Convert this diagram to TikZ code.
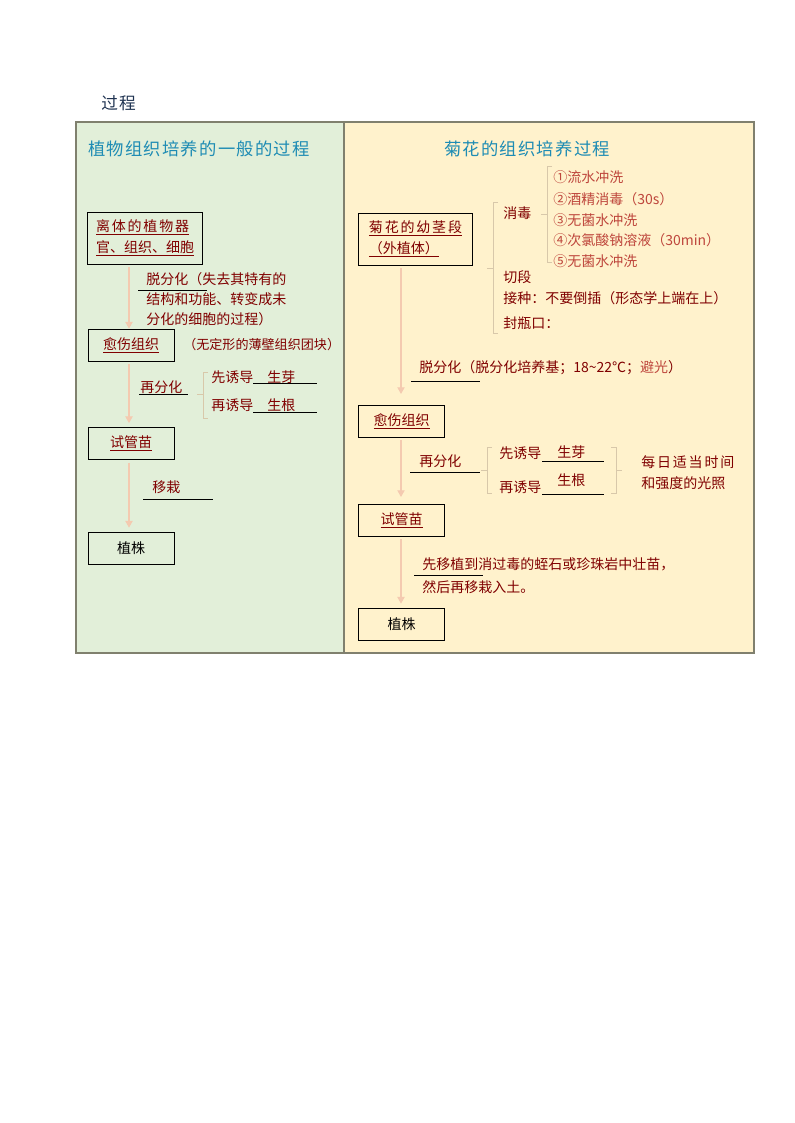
\documentclass[tikz,border=0pt]{standalone}
\usepackage{fontspec}
\setmainfont{Noto Sans CJK SC}
\newfontfamily\widefont[LetterSpace=13]{Noto Sans CJK SC}
\newfontfamily\titlefont[LetterSpace=7]{Noto Sans CJK SC}
\usetikzlibrary{arrows.meta}
\definecolor{leftbg}{RGB}{226,239,217}
\definecolor{rightbg}{RGB}{255,242,204}
\definecolor{framegray}{RGB}{128,128,110}
\definecolor{titleblue}{RGB}{30,140,180}
\definecolor{headnavy}{RGB}{30,50,80}
\definecolor{darkred}{RGB}{128,0,0}
\definecolor{itemred}{RGB}{190,70,60}
\definecolor{peach}{RGB}{244,202,176}
\definecolor{brace}{RGB}{216,200,170}
\def\bracket(#1,#2,#3,#4,#5){\draw[brk] ({#1+5*(#5)},#2) -- (#1,#2) -- (#1,#3) -- ({#1+5*(#5)},#3); \draw[brk] (#1,#4) -- ({#1-6*(#5)},#4);}

\begin{document}
\begin{tikzpicture}[x=0.75pt, y=-0.75pt,
	stage/.style={draw=black, line width=0.6pt, inner sep=0pt, minimum width=64.5pt, minimum height=24pt, text=darkred, font=\fontsize{10.5}{15.75}\selectfont},
	bigstage/.style={stage, minimum width=86pt, minimum height=39pt, align=left},
	lbl/.style={anchor=west, inner sep=0pt, text=darkred, font=\fontsize{10.5}{15}\selectfont},
	sterilitem/.style={lbl, text=itemred},
	ttl/.style={anchor=west, inner sep=0pt, text=titleblue, font=\fontsize{13}{15}\titlefont},
	flow/.style={draw=peach, line width=0.8pt, -{Triangle[width=5.5pt,length=5pt]}, shorten >=3pt, shorten <=2pt},
	ul/.style={draw=black, line width=0.75pt},
	brk/.style={draw=brace, line width=0.75pt}]
		\useasboundingbox (0, 0) rectangle (794, 1123);
		%%%%% PANELS %%%%%
		
		\fill[leftbg] (76, 122) rectangle (344, 653);
		\fill[rightbg] (344, 122) rectangle (754, 653);
		\draw[framegray, line width=0.8pt] (76, 122) rectangle (754, 653);
		\draw[framegray, line width=0.8pt] (344, 122) -- (344, 653);
		
		\node[ttl, text=headnavy, font=\fontsize{12.5}{15}\titlefont] (head) at (101, 103) {过程};
		
		%%%%% LEFT %%%%%
		
		\node[ttl] (lhead) at (88, 149) {植物组织培养的一般的过程};
		
		\node[bigstage] (l1) at (145, 238) {\underline{\widefont 离体的植物器}\\\underline{官、组织、细胞}};
		\node[lbl, align=left] (ldedif) at (146, 299) {脱分化（失去其特有的\\结构和功能、转变成未\\分化的细胞的过程）};
		\draw[ul] (138, 290) -- (207, 290);
		
		\node[stage] (l2) at (131, 345) {\underline{愈伤组织}};
		\node[lbl, font=\fontsize{9.8}{12}\selectfont] (lnote) at (183, 345) {（无定形的薄壁组织团块）};
		
		\node[lbl] (lredif) at (140, 387) {再分化};
		\draw[ul] (139, 394) -- (188, 394);
		\bracket(203,372,418,394,1)
		\node[lbl] (lshoot) at (211, 377) {先诱导};
		\draw[ul] (253, 383) -- (317, 383);
		\node[lbl] (lshootb) at (267, 377) {生芽};
		\node[lbl] (lroot) at (211, 405) {再诱导};
		\draw[ul] (253, 412) -- (317, 412);
		\node[lbl] (lrootb) at (267, 405) {生根};
		
		\node[stage] (l3) at (131, 443.5) {\underline{试管苗}};
		\node[lbl] (lmove) at (152, 487) {移栽};
		\draw[ul] (143, 499) -- (213, 499);
		
		\node[stage, text=black] (l4) at (131, 548) {植株};
		
		\coordinate (lax) at (129, 0);
		\draw[flow, shorten >=0pt] (l1.south -| lax) -- (l2.north -| lax);
		\draw[flow] (l2.south -| lax) -- (l3.north -| lax);
		\draw[flow] (l3.south -| lax) -- (l4.north -| lax);
		
		%%%%% RIGHT %%%%%
		
		\node[ttl] (rhead) at (444, 149) {菊花的组织培养过程};
		
		\node[bigstage] (r1) at (415.5, 239) {\underline{\widefont 菊花的幼茎段}\\\underline{（外植体）}};
		
		\bracket(493,203,333,268,1)
		\node[lbl] (rster) at (503, 213) {消毒};
		\bracket(547,167,262,215,1)
		\node[sterilitem] (s1) at (553, 177) {①流水冲洗};
		\node[sterilitem] (s2) at (553, 199) {②酒精消毒（30s）};
		\node[sterilitem] (s3) at (553, 220) {③无菌水冲洗};
		\node[sterilitem] (s4) at (553, 240) {④次氯酸钠溶液（30min）};
		\node[sterilitem] (s5) at (553, 261) {⑤无菌水冲洗};
		\node[lbl] (rcut) at (503, 277) {切段};
		\node[lbl] (rinoc) at (503, 298) {接种：不要倒插（形态学上端在上）};
		\node[lbl] (rseal) at (503, 323) {封瓶口：};
		
		\node[lbl] (rdedif) at (419, 368) {脱分化（脱分化培养基；18\textasciitilde22℃；\textcolor{itemred}{避光}）};
		\draw[ul] (411, 381) -- (480, 381);
		
		\node[stage, minimum width=65pt] (r2) at (401.5, 421) {\underline{愈伤组织}};
		
		\node[lbl] (rredif) at (419, 461) {再分化};
		\draw[ul] (410, 472) -- (480, 472);
		\bracket(487,447,493,470,1)
		\node[lbl] (rshoot) at (499, 453) {先诱导};
		\draw[ul] (542, 461) -- (604, 461);
		\node[lbl] (rshootb) at (557, 452) {生芽};
		\node[lbl] (rroot) at (499, 487) {再诱导};
		\draw[ul] (542, 494) -- (604, 494);
		\node[lbl] (rrootb) at (557, 480) {生根};
		\bracket(616,447,493,470,-1)
		\node[lbl, align=left, font=\fontsize{10.5}{15.75}\selectfont] (rlight) at (641, 472.5) {{\widefont 每日适当时间}\\和强度的光照};
		
		\node[stage, minimum width=65pt] (r3) at (401.5, 520) {\underline{试管苗}};
		\node[lbl, align=left, font=\fontsize{10.5}{17.25}\selectfont] (rplant) at (422, 575.5) {先移植到消过毒的蛭石或珍珠岩中壮苗，\\然后再移栽入土。};
		\draw[ul] (414, 575) -- (483, 575);
		
		\node[stage, minimum width=65pt, text=black] (r4) at (401.5, 624) {植株};
		
		\coordinate (rax) at (401, 0);
		\draw[flow, shorten >=8pt] (r1.south -| rax) -- (r2.north -| rax);
		\draw[flow, shorten >=5pt] (r2.south -| rax) -- (r3.north -| rax);
		\draw[flow] (r3.south -| rax) -- (r4.north -| rax);
		
		%%%%% END %%%%%
	\end{tikzpicture}
\end{document}
